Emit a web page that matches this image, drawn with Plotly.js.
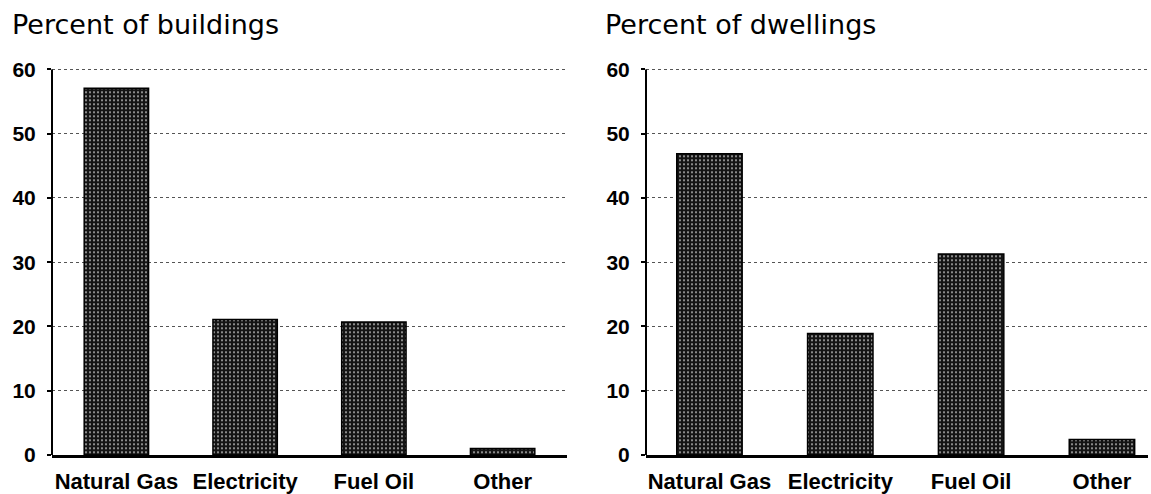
<!DOCTYPE html>
<html><head><meta charset="utf-8">
<script src="https://cdn.plot.ly/plotly-3.0.1.min.js"></script>
<style>html,body{margin:0;padding:0;background:#fff}</style>
</head><body><div id="chart" style="width:1151px;height:494px"></div>
<script>
const categories = ['Natural Gas', 'Electricity', 'Fuel Oil', 'Other'];
const buildings = [57.1, 21.1, 20.7, 1.0];
const dwellings = [46.9, 18.9, 31.3, 2.4];
const yTicks = [0, 10, 20, 30, 40, 50, 60];
const panelTitles = ['Percent of buildings', 'Percent of dwellings'];

const W = 1151, H = 494;
const FONT = 'DejaVu Sans, Liberation Sans, Arial, sans-serif';
const LFONT = 'Liberation Sans, Arial, Helvetica, sans-serif';
const PXU = (455 - 69.5) / 60;
const YMAX = 60.5;

function barTrace(vals, xa, ya) {
  return {
    type: 'bar', x: categories, y: vals, xaxis: xa, yaxis: ya, width: 0.5,
    hoverinfo: 'skip', showlegend: false,
    marker: {
      color: '#141414',
      line: {color: '#000', width: 1.5},
      pattern: {shape: '.', bgcolor: '#141414', fgcolor: '#a8a8a8', size: 4, solidity: 0.22, fillmode: 'replace'}
    }
  };
}

const yCommon = {
  range: [0, YMAX], tickvals: yTicks, ticktext: yTicks.map(String),
  showline: false,
  ticks: 'outside', ticklen: 4, tickwidth: 2, tickcolor: '#000',
  showgrid: true, gridcolor: '#555', gridwidth: 1, griddash: 'dot',
  zeroline: false, fixedrange: true,
  tickfont: {family: LFONT, size: 21, color: '#000', weight: 'bold'},
  ticklabelstandoff: 7,
  domain: [(H - 455) / H, (H - (69.5 - (YMAX - 60) * PXU)) / H]
};
const xCommon = {
  type: 'category', showline: true, linecolor: '#000', linewidth: 2.5,
  ticks: '', showgrid: false, zeroline: false, fixedrange: true,
  tickfont: {family: LFONT, size: 22, color: '#000', weight: 'bold'},
  ticklabelstandoff: 5
};

function axisLine(xref, yref) {
  return {type: 'line', xref: xref + ' domain', yref: yref, x0: 0, x1: 0, y0: 0, y1: 60,
          line: {color: '#000', width: 2}};
}

const layout = {
  width: W, height: H,
  margin: {l: 0, r: 0, t: 0, b: 0},
  paper_bgcolor: '#fff', plot_bgcolor: '#fff',
  bargap: 0.5,
  xaxis: Object.assign({}, xCommon, {domain: [52 / W, 567 / W], range: [-0.5, 3.5], anchor: 'y'}),
  yaxis: Object.assign({}, yCommon, {anchor: 'x'}),
  xaxis2: Object.assign({}, xCommon, {domain: [646 / W, 1148 / W], range: [-0.485, 3.352], anchor: 'y2'}),
  yaxis2: Object.assign({}, yCommon, {anchor: 'x2'}),
  shapes: [axisLine('x', 'y'), axisLine('x2', 'y2')],
  annotations: [
    {text: panelTitles[0], xref: 'paper', yref: 'paper', x: 10 / W, y: (H - 24) / H,
     xanchor: 'left', yanchor: 'middle', showarrow: false, font: {family: FONT, size: 27, color: '#000'}},
    {text: panelTitles[1], xref: 'paper', yref: 'paper', x: 603 / W, y: (H - 24) / H,
     xanchor: 'left', yanchor: 'middle', showarrow: false, font: {family: FONT, size: 27, color: '#000'}}
  ]
};

Plotly.newPlot('chart', [barTrace(buildings, 'x', 'y'), barTrace(dwellings, 'x2', 'y2')], layout,
  {displayModeBar: false, staticPlot: true});
</script>
</body></html>
